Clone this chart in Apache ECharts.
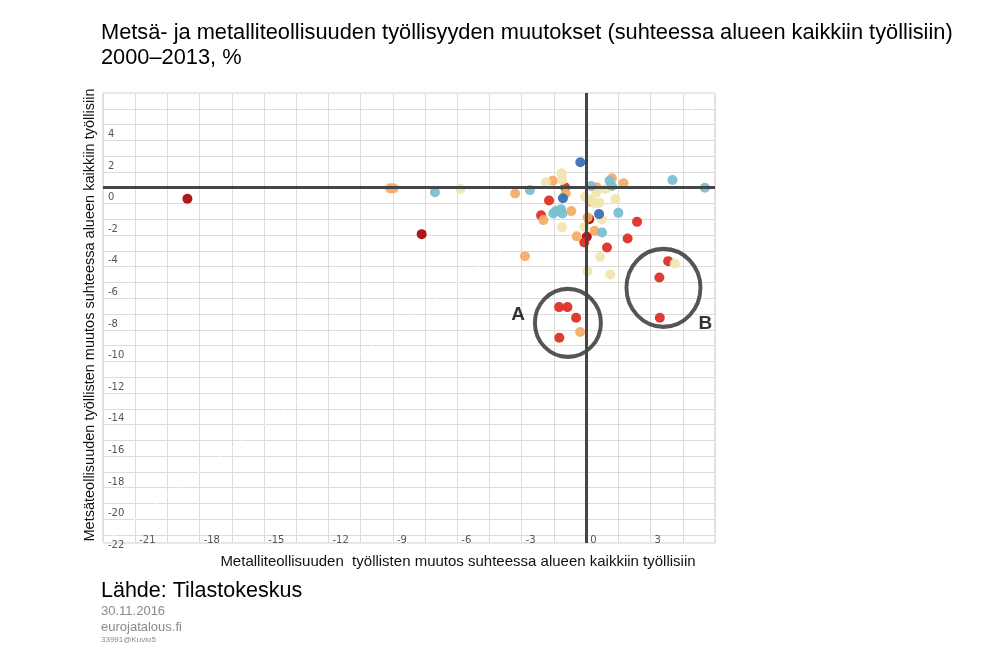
<!DOCTYPE html>
<html>
<head>
<meta charset="utf-8">
<script src="https://cdn.jsdelivr.net/npm/echarts@6/dist/echarts.min.js"></script>
<style>
  html, body { margin: 0; padding: 0; background: #fff; }
  #chart { width: 1000px; height: 653px; }
</style>
</head>
<body>
<div id="chart"></div>
<script>
// texts
let titleText = 'Metsä- ja metalliteollisuuden työllisyyden muutokset (suhteessa alueen kaikkiin työllisiin)\n2000–2013, %';
let xName = 'Metalliteollisuuden  työllisten muutos suhteessa alueen kaikkiin työllisiin';
let yName = 'Metsäteollisuuden työllisten muutos suhteessa alueen kaikkiin työllisiin';
let sourceText = 'Lähde: Tilastokeskus';
let footLines = ['30.11.2016', 'eurojatalous.fi'];
let footCode = '33991@Kuvio5';

// ticks
let xLabels = [-21, -18, -15, -12, -9, -6, -3, 0, 3];
let xGrid = [-22.5, -21, -19.5, -18, -16.5, -15, -13.5, -12, -10.5, -9, -7.5, -6, -4.5, -3, -1.5, 0, 1.5, 3, 4.5, 6];
let yLabels = [-22, -20, -18, -16, -14, -12, -10, -8, -6, -4, -2, 0, 2, 4];
let yGrid = [-22, -21, -20, -19, -18, -17, -16, -15, -14, -13, -12, -11, -10, -9, -8, -7, -6, -5, -4, -3, -2, -1, 0, 1, 2, 3, 4, 5];

// points [metalli, metsä], grouped by colour
let darkRed = [[-18.57, -0.70], [-7.66, -2.94], [0.03, -3.10], [0.14, -1.99]];
let red = [[-0.98, 0.03], [-1.73, -0.81], [-2.10, -1.75], [-0.09, -3.47], [2.37, -2.16], [1.93, -3.21],
  [0.97, -3.78], [3.82, -4.65], [3.41, -5.69], [3.43, -8.23], [-1.26, -7.56], [-0.87, -7.56],
  [-0.47, -8.23], [-1.25, -9.50]];
let orange = [[-9.13, -0.04], [-8.97, -0.04], [-3.31, -0.36], [-1.55, 0.44], [-0.95, -0.36], [-1.99, -2.05],
  [-0.69, -1.48], [-0.44, -3.08], [0.07, -1.89], [0.39, -2.72], [-2.85, -4.34], [-0.28, -9.14],
  [0.49, 0.03], [1.20, 0.60], [1.74, 0.28], [0.21, -0.88]];
let paleYellow = [[-5.86, -0.08], [-1.14, 0.91], [-1.12, 0.49], [-1.88, 0.34], [-1.12, -2.51], [-0.08, -2.48],
  [0.65, -4.38], [0.06, -5.29], [1.12, -5.50], [4.13, -4.80], [0.90, -0.08], [0.47, -0.32],
  [-0.05, -0.57], [0.19, -0.78], [0.42, -0.99], [0.62, -0.95], [1.36, -0.72], [0.73, -2.01]];
let teal = [[-7.04, -0.29], [-2.62, -0.15], [-1.53, -1.63], [-1.40, -1.46], [-1.17, -1.37], [-1.11, -1.63],
  [0.23, 0.11], [1.09, 0.44], [1.20, 0.11], [1.50, -1.59], [0.74, -2.83], [4.02, 0.49], [5.53, 0.00]];
let blue = [[-0.27, 1.61], [-1.08, -0.67], [0.60, -1.67]];

// annotation rings A and B
let ringNames = ['A', 'B'];
let ringCenters = [[-0.85, -8.56], [3.60, -6.34]];

let groups = [
  {name: 'darkRed', data: darkRed, color: '#a80d0d'},
  {name: 'red', data: red, color: '#dc3126'},
  {name: 'orange', data: orange, color: '#f5ad68'},
  {name: 'paleYellow', data: paleYellow, color: '#f0e6b2'},
  {name: 'teal', data: teal, color: '#79c0d0'},
  {name: 'blue', data: blue, color: '#3b6fb2'}
];

let tickFont = {fontFamily: 'DejaVu Sans', fontSize: 10, color: '#555'};

let series = [];

// faint diagonal + zero lines
series.push({
  type: 'line',
  data: [[-22.5, -22.5], [6, 6]],
  symbol: 'none',
  silent: true,
  z: 1,
  lineStyle: {color: '#ffffff', width: 1.5, opacity: 0.6},
  markLine: {
    silent: true,
    symbol: 'none',
    label: {show: false},
    lineStyle: {color: '#454545', width: 3, type: 'solid'},
    data: [{xAxis: 0}, {yAxis: 0}]
  }
});

groups.forEach(function (g) {
  series.push({
    type: 'scatter',
    name: g.name,
    data: g.data,
    symbolSize: 10,
    z: 3,
    itemStyle: {color: g.color, opacity: 0.95}
  });
});

series.push({
  type: 'scatter',
  name: 'rings',
  z: 4,
  silent: true,
  data: [
    {value: ringCenters[0], symbolSize: [66, 68],
      label: {formatter: ringNames[0], position: 'left', offset: [-3, -8]}},
    {value: ringCenters[1], symbolSize: [74, 78],
      label: {formatter: ringNames[1], position: 'right', offset: [-9, 36]}}
  ],
  itemStyle: {color: 'rgba(0,0,0,0)', borderColor: '#2b2b2b', borderWidth: 4},
  label: {show: true, fontFamily: 'Liberation Sans', fontWeight: 'bold', fontSize: 19, color: '#000'}
});

let option = {
  animation: false,
  backgroundColor: '#fff',
  grid: {left: 103, top: 93, right: 285, bottom: 110, show: true, borderColor: '#cfcfcf', borderWidth: 1},
  xAxis: {
    type: 'value',
    min: -22.5,
    max: 6,
    interval: 1.5,
    name: xName,
    nameLocation: 'middle',
    nameGap: 11,
    nameTextStyle: {fontFamily: 'Liberation Sans', fontSize: 15, color: '#111', padding: [0, 0, 0, 98]},
    axisLine: {show: false},
    axisTick: {show: false, customValues: xGrid},
    splitLine: {lineStyle: {color: '#dcdcdc', width: 1}},
    axisLabel: Object.assign({
      customValues: xLabels,
      inside: true,
      align: 'left',
      verticalAlign: 'bottom',
      margin: -2,
      padding: [0, 0, 0, 4]
    }, tickFont)
  },
  yAxis: {
    type: 'value',
    min: -22.5,
    max: 6,
    name: yName,
    nameLocation: 'middle',
    nameRotate: 90,
    nameGap: 6,
    nameTextStyle: {fontFamily: 'Liberation Sans', fontSize: 14.5, color: '#111', padding: [0, 0, 0, 6]},
    axisLine: {show: false},
    axisTick: {show: false, customValues: yGrid},
    splitLine: {lineStyle: {color: '#dcdcdc', width: 1}},
    axisLabel: Object.assign({
      customValues: yLabels,
      inside: true,
      align: 'left',
      verticalAlign: 'top',
      margin: 5,
      padding: [5, 0, 0, 0]
    }, tickFont)
  },
  graphic: [
    {type: 'text', left: 101, top: 20, style: {text: titleText, font: '21.8px "Liberation Sans"', fill: '#000', lineHeight: 25}},
    {type: 'text', left: 101, top: 580, style: {text: sourceText, font: '21.5px "Liberation Sans"', fill: '#000'}},
    {type: 'text', left: 101, top: 603, style: {text: footLines.join('\n'), font: '13px "Liberation Sans"', fill: '#8a8a8a', lineHeight: 16}},
    {type: 'text', left: 101, top: 636, style: {text: footCode, font: '8px "Liberation Sans"', fill: '#8a8a8a'}}
  ],
  series: series
};

let chart = echarts.init(document.getElementById('chart'));
chart.setOption(option);
</script>
</body>
</html>
